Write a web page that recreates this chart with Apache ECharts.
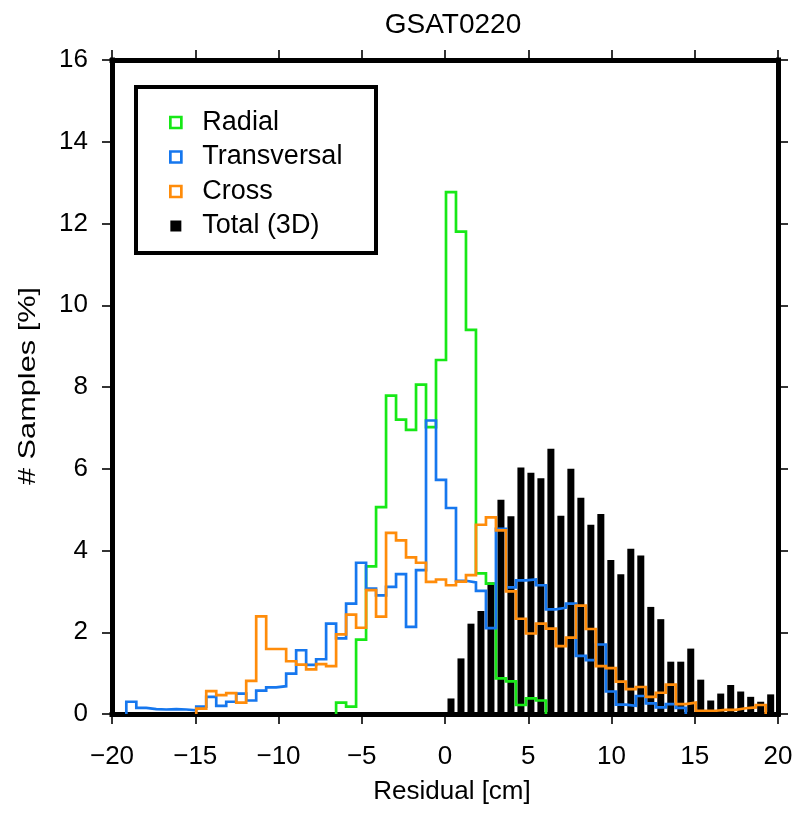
<!DOCTYPE html>
<html><head><meta charset="utf-8">
<script src="https://cdn.jsdelivr.net/npm/echarts@6/dist/echarts.min.js"></script>
<style>html,body{margin:0;padding:0;background:#fff}#c{width:802px;height:815px}</style>
</head><body><div id="c"></div>
<script>
// ---- data ----
const chartTitle = 'GSAT0220';
const xAxisName = 'Residual [cm]';
const yAxisName = '# Samples [%]';
const seriesNames = ['Radial', 'Transversal', 'Cross', 'Total (3D)'];
const xTicks = [-20, -15, -10, -5, 0, 5, 10, 15, 20];
const yTicks = [0, 2, 4, 6, 8, 10, 12, 14, 16];
// histogram bins: edge of bin k = binOrigin + k*binWidth  (cm)
const binOrigin = 0.06;
const binWidth = 0.6;

const radialFirstBin = -11;
const radial = [0.28,0.18,1.82,3.61,5.06,7.79,7.20,6.95,8.06,7.02,8.66,12.77,11.80,9.40,3.44,3.19,0.87,0.80,0.22,0.38,0.33];

const transversalFirstBin = -32;
const transversal = [0.30,0.15,0.12,0.11,0.12,0.11,0.09,0.18,0.42,0.20,
  0.30,0.50,0.33,0.57,0.65,0.68,0.99,1.56,1.20,1.34,
  2.21,1.85,2.70,3.70,3.07,2.90,3.11,3.42,2.13,3.52,
  7.18,5.73,5.04,3.26,3.22,3.01,2.10,4.53,3.10,3.27,
  3.29,3.15,2.56,2.60,2.70,1.42,1.32,1.70,0.55,0.23,
  0.20,0.44,0.26,0.16,0.24,0.15];

const crossFirstBin = -25;
const cross = [0.13,0.56,0.46,0.51,0.28,0.81,2.39,1.59,1.59,1.29,
  1.21,1.09,1.22,1.17,1.95,2.43,2.11,3.03,2.38,4.43,
  4.25,3.83,3.70,3.23,3.29,3.15,3.24,3.40,4.63,4.81,
  4.49,3.00,2.33,1.97,2.21,2.09,1.66,1.87,2.65,2.08,
  1.17,1.12,0.79,0.61,0.66,0.42,0.52,0.72,0.24,0.28,
  0.08,0.08,0.10,0.10,0.14,0.16,0.22];

const totalFirstBin = 0;
const total = [0.38,1.36,2.21,2.52,3.22,5.24,4.84,6.03,5.90,5.77,
  6.49,4.85,6.00,5.29,4.63,4.89,3.77,3.42,4.04,3.88,
  2.62,2.32,1.28,1.28,1.60,0.84,0.33,0.50,0.71,0.55,
  0.42,0.30,0.48];

// ---- styles ----
const colors = ['#17e817', '#1677ee', '#ff8c0a', '#000000'];
const FONT = 'Liberation Sans, Arial, Helvetica, sans-serif';
const FS = 26;

function edge(first, i) { return +(binOrigin + (first + i) * binWidth).toFixed(4); }
function stepData(first, vals) {
  const pts = [[edge(first, 0), 0]];
  vals.forEach((v, i) => pts.push([edge(first, i), v]));
  pts.push([edge(first, vals.length), 0]);
  return pts;
}
function barData(first, vals) {
  return vals.map((v, i) => [+(edge(first, i) + binWidth / 2).toFixed(4), v]);
}
const minus = v => String(v).replace('-', '\u2212');

const axisLineStyle = { color: '#000', width: 5, cap: 'square' };
const tickStyle = { show: true, inside: false, length: 10, lineStyle: { color: '#000', width: 1.6 } };

const chart = echarts.init(document.getElementById('c'), null, { renderer: 'canvas' });
const lineSeries = (name, first, vals, color) => ({
  name, type: 'line', step: 'end', data: stepData(first, vals),
  symbol: 'none', showSymbol: false, animation: false,
  lineStyle: { color, width: 2.7, join: 'miter' }, itemStyle: { color },
  xAxisIndex: 0, yAxisIndex: 0, z: 3
});

chart.setOption({
  animation: false,
  backgroundColor: '#fff',
  textStyle: { fontFamily: FONT },
  title: {
    text: chartTitle, left: 448, top: 6, textAlign: 'center',
    textStyle: { fontFamily: FONT, fontSize: 28, fontWeight: 'normal', color: '#000' }
  },
  grid: { left: 112, right: 24, top: 60, bottom: 101, containLabel: false },
  xAxis: [{
    type: 'value', min: -20, max: 20, interval: 5, position: 'bottom',
    name: xAxisName, nameLocation: 'middle', nameGap: 65,
    nameTextStyle: { fontFamily: FONT, fontSize: FS, color: '#000', padding: [0, 0, 0, 14] },
    axisLine: { show: true, onZero: false, lineStyle: axisLineStyle },
    axisTick: tickStyle, splitLine: { show: false },
    axisLabel: { show: true, margin: 30, fontFamily: FONT, fontSize: FS, color: '#000', formatter: minus }
  }, {
    type: 'value', min: -20, max: 20, interval: 5, position: 'top',
    axisLine: { show: true, onZero: false, lineStyle: axisLineStyle },
    axisTick: tickStyle, splitLine: { show: false }, axisLabel: { show: false }
  }],
  yAxis: [{
    type: 'value', min: 0, max: 16, interval: 2, position: 'left',
    axisLine: { show: true, onZero: false, lineStyle: axisLineStyle },
    axisTick: tickStyle, splitLine: { show: false },
    axisLabel: { show: true, margin: 24, fontFamily: FONT, fontSize: FS, color: '#000' }
  }, {
    type: 'value', min: 0, max: 16, interval: 2, position: 'right',
    axisLine: { show: true, onZero: false, lineStyle: axisLineStyle },
    axisTick: tickStyle, splitLine: { show: false }, axisLabel: { show: false }
  }],
  legend: {
    orient: 'vertical', left: 164, top: 104, itemWidth: 11, itemHeight: 11, itemGap: 7.5,
    selectedMode: false,
    textStyle: { fontFamily: FONT, fontSize: 27, color: '#000', lineHeight: 26, padding: [0, 0, 0, 16] },
    data: seriesNames.map((n, i) => ({
      name: n, icon: 'rect',
      itemStyle: i < 3 ? { color: '#fff', borderColor: colors[i], borderWidth: 2.7 } : { color: '#000', borderWidth: 0 }
    }))
  },
  graphic: [{
    type: 'rect', z: 1, silent: true,
    shape: { x: 136, y: 87, width: 240, height: 166 },
    style: { fill: 'rgba(0,0,0,0)', stroke: '#000', lineWidth: 4 }
  }, {
    type: 'text', z: 5, silent: true,
    x: 28, y: 386, rotation: Math.PI / 2, scaleX: 1.28,
    style: { text: yAxisName, fontFamily: FONT, fontSize: 24, fill: '#000', align: 'center', verticalAlign: 'middle' }
  }],
  series: [
    {
      name: seriesNames[3], type: 'bar', data: barData(totalFirstBin, total),
      barWidth: 7, itemStyle: { color: colors[3] }, xAxisIndex: 0, yAxisIndex: 0, z: 2, animation: false
    },
    lineSeries(seriesNames[0], radialFirstBin, radial, colors[0]),
    lineSeries(seriesNames[1], transversalFirstBin, transversal, colors[1]),
    lineSeries(seriesNames[2], crossFirstBin, cross, colors[2])
  ]
});
</script>
</body></html>
